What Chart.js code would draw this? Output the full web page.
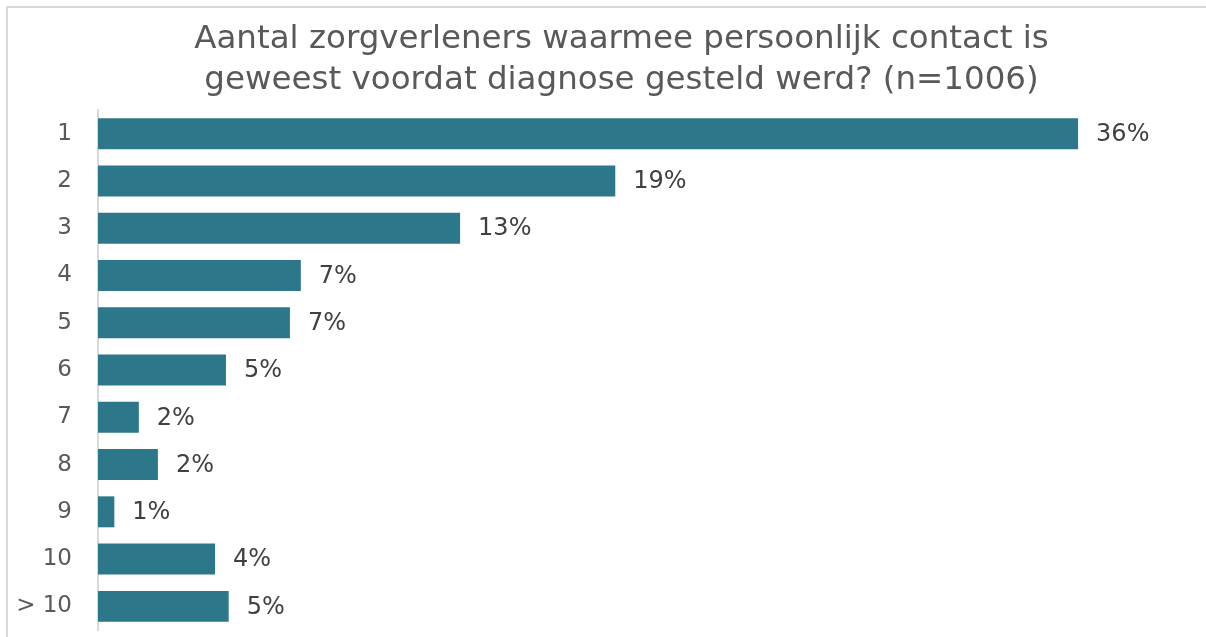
<!DOCTYPE html>
<html>
<head>
<meta charset="utf-8">
<script src="https://cdn.jsdelivr.net/npm/chart.js@4.4.1/dist/chart.umd.min.js"></script>
<style>
	html,body{margin:0;padding:0;background:#fff;overflow:hidden;width:1206px;height:637px;}
	#frame{position:absolute;left:6px;top:6px;width:1220px;height:650px;border:2px solid #d9d9d9;box-sizing:border-box;}
	#contacts{position:absolute;left:0;top:0;}
</style>
</head>
<body>
<div id="frame"></div>
<canvas id="contacts" width="1206" height="637"></canvas>
<script>
(function(){
	'use strict';

	// categories and values
	var categories = ['1','2','3','4','5','6','7','8','9','10','> 10'];
	var shares = [36.0, 19.0, 13.3, 7.45, 7.05, 4.7, 1.5, 2.2, 0.6, 4.3, 4.8];
	var shareLabels = ['36%','19%','13%','7%','7%','5%','2%','2%','1%','4%','5%'];
	var titleLines = ['Aantal zorgverleners waarmee persoonlijk contact is', 'geweest voordat diagnose gesteld werd? (n=1006)'];

	var fontName = '"DejaVu Sans", sans-serif';

	// values next to the bars
	var barLabels = {
		id:'barLabels',
		afterDatasetsDraw:function(chart){
			var ctx = chart.ctx;
			var meta = chart.getDatasetMeta(0);
			ctx.save();
			ctx.font = '24px ' + fontName;
			ctx.fillStyle = '#404040';
			ctx.textAlign = 'left';
			ctx.textBaseline = 'middle';
			meta.data.forEach(function(bar, i){
				ctx.fillText(shareLabels[i], bar.x + 18, bar.y + 1);
			});
			ctx.restore();
		}
	};

	// title sits a bit right of the canvas centre, like in the original
	var titleShift = {
		id:'titleShift',
		afterLayout:function(chart){
			if(chart.titleBlock){
				chart.titleBlock.left = 56;
			}
		}
	};

	new Chart(document.getElementById('contacts'),{
		type:'bar',
		data:{
			labels:categories,
			datasets:[
				{
					data:shares,
					backgroundColor:'#2c778a',
					borderWidth:0,
					categoryPercentage:1,
					barPercentage:0.655
				}
			]
		},
		options:{
			indexAxis:'y',
			responsive:false,
			animation:false,
			layout:{padding:{left:0, right:19, top:0, bottom:7}},
			plugins:{
				legend:{display:false},
				tooltip:{enabled:false},
				title:{
					display:true,
					text:titleLines,
					color:'#595959',
					font:{family:fontName, size:32.5, weight:'normal', lineHeight:1.262},
					padding:{top:19, bottom:9}
				}
			},
			scales:{
				x:{
					display:false,
					min:0,
					max:40
				},
				y:{
					grid:{display:false, drawTicks:false},
					border:{display:true, color:'#d9d9d9', width:2},
					ticks:{
						color:'#595959',
						font:{family:fontName, size:23},
						padding:26
					},
					afterFit:function(scale){
						scale.width = 98;
						scale.paddingTop = 0;
						scale.paddingBottom = 0;
					}
				}
			}
		},
		plugins:[barLabels, titleShift]
	});
})();
</script>
</body>
</html>
